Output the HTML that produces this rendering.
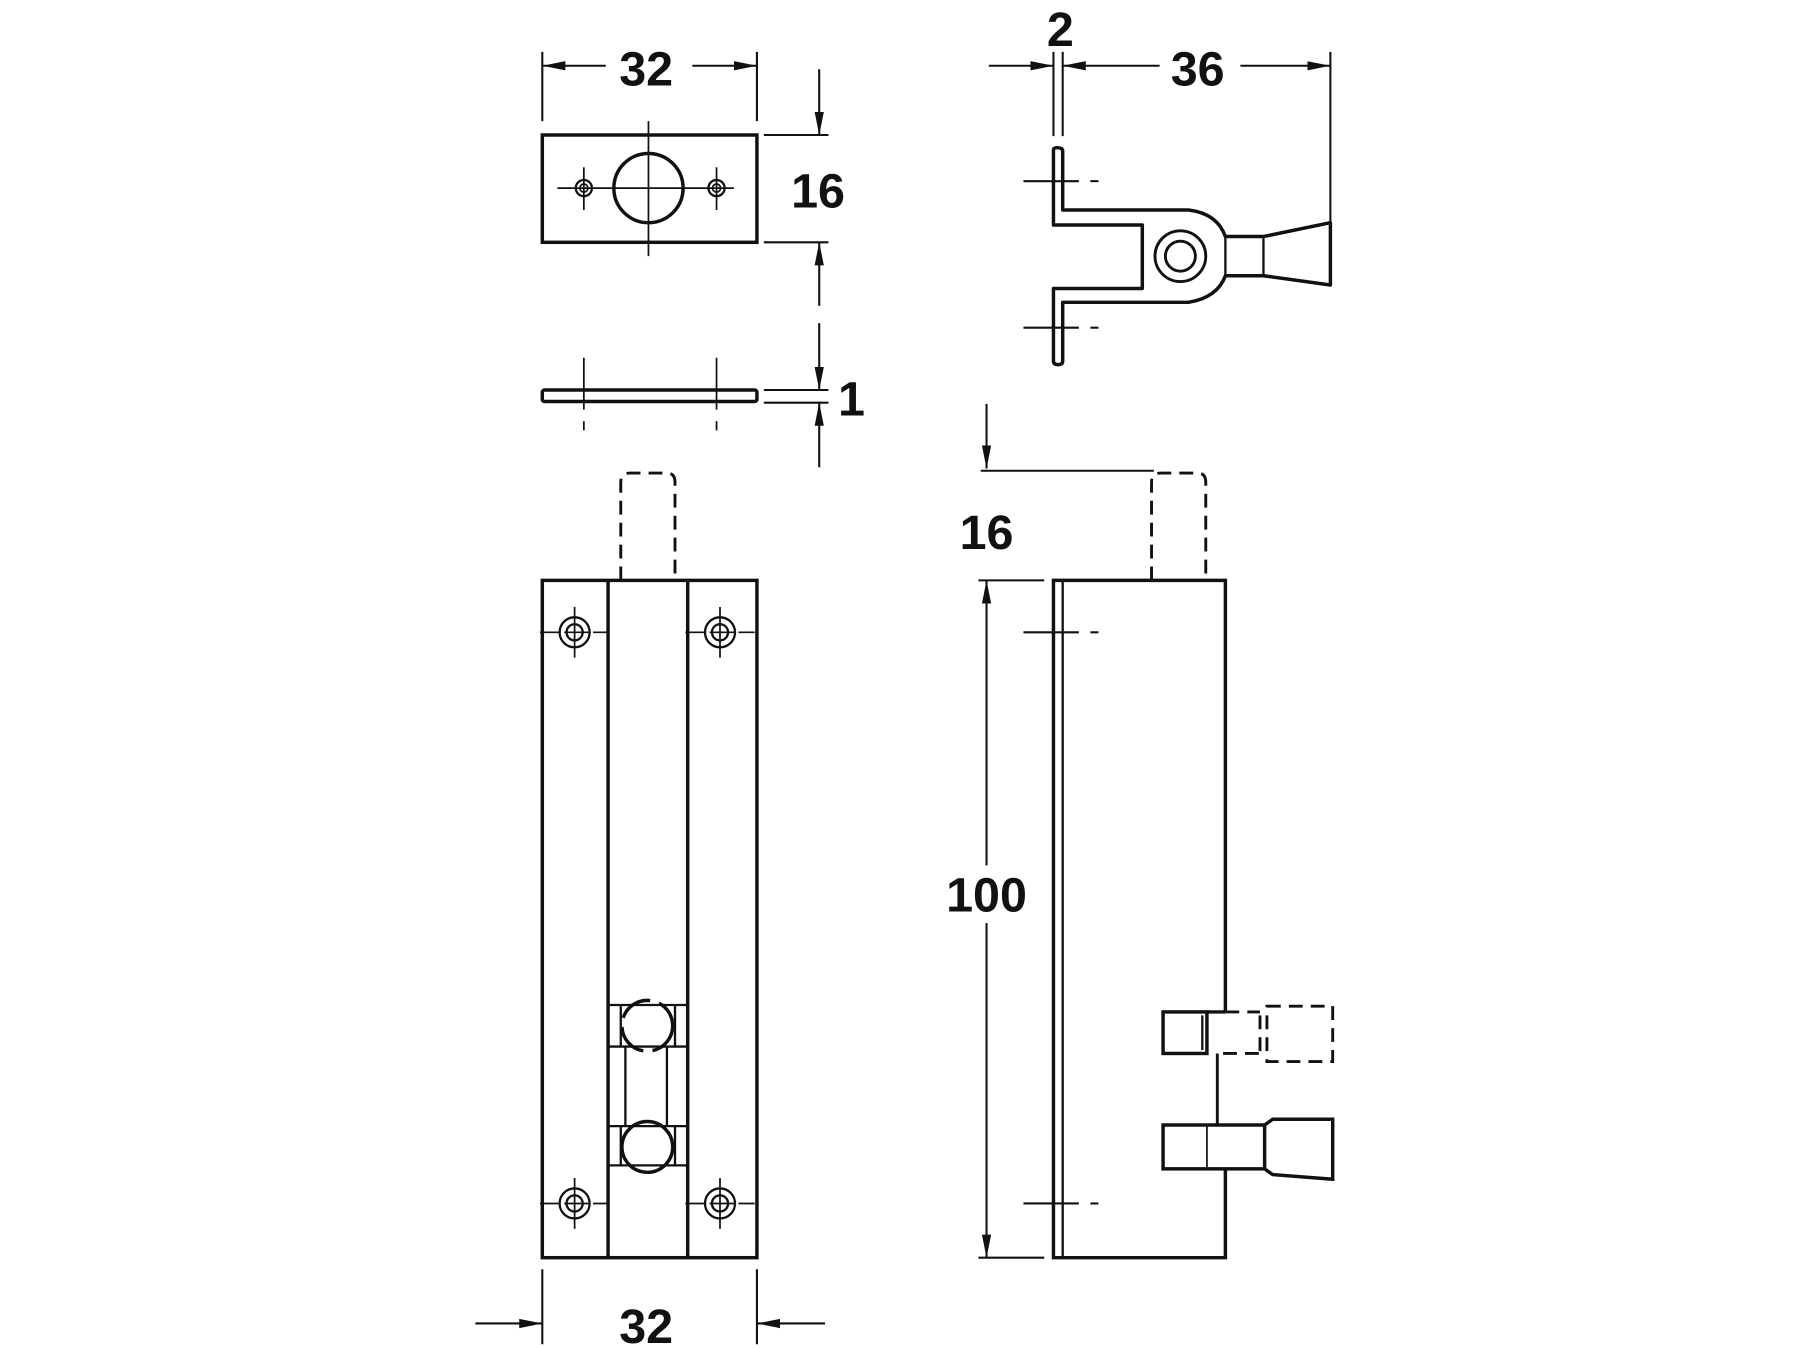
<!DOCTYPE html>
<html><head><style>html,body{margin:0;padding:0;background:#fff}svg{display:block}</style></head>
<body>
<svg width="1800" height="1350" viewBox="0 0 1560 1170" xmlns="http://www.w3.org/2000/svg">
<defs>
<marker id="a" viewBox="0 0 20 10" refX="20" refY="5" markerWidth="20" markerHeight="10" markerUnits="userSpaceOnUse" orient="auto"><path d="M0,1 L20,5 L0,9 z" fill="#111"/></marker>
<g id="s" fill="none" stroke="#111"><circle r="13" stroke-width="2" fill="none"/><circle r="7" stroke-width="2" fill="none"/><line x1="-30" y1="0" x2="30" y2="0" stroke-width="1.5" stroke-dasharray="18,3,22,3"/><line x1="0" y1="-22" x2="0" y2="22" stroke-width="1.5"/></g>
</defs>
<g fill="none" stroke="#111" stroke-width="1.8">
<line x1="470" y1="45" x2="470" y2="105"/><line x1="656" y1="45" x2="656" y2="105"/>
<line x1="525" y1="57" x2="470" y2="57" marker-end="url(#a)"/><line x1="600" y1="57" x2="656" y2="57" marker-end="url(#a)"/>
<line x1="662" y1="117" x2="718" y2="117"/><line x1="662" y1="210" x2="718" y2="210"/>
<line x1="710" y1="60" x2="710" y2="117" marker-end="url(#a)"/><line x1="710" y1="265" x2="710" y2="210" marker-end="url(#a)"/>
<line x1="662" y1="338" x2="718" y2="338"/><line x1="662" y1="349" x2="718" y2="349"/>
<line x1="710" y1="280" x2="710" y2="338" marker-end="url(#a)"/><line x1="710" y1="405" x2="710" y2="349" marker-end="url(#a)"/>
</g>
<g fill="none" stroke="#111">
<rect x="470" y="117" width="186" height="93" stroke-width="3"/>
<circle cx="562" cy="163" r="30" stroke-width="3"/>
<circle cx="506" cy="163" r="7" stroke-width="2"/><circle cx="506" cy="163" r="3.5" stroke-width="1.5"/>
<circle cx="621" cy="163" r="7" stroke-width="2"/><circle cx="621" cy="163" r="3.5" stroke-width="1.5"/>
<g stroke-width="1.5"><line x1="483" y1="163" x2="636" y2="163"/><line x1="562" y1="105" x2="562" y2="222"/><line x1="506" y1="145" x2="506" y2="182"/><line x1="621" y1="145" x2="621" y2="182"/></g>
<rect x="470" y="338" width="186" height="10" rx="2" stroke-width="3"/>
<g stroke-width="1.5"><line x1="506" y1="310" x2="506" y2="355"/><line x1="621" y1="310" x2="621" y2="355"/><line x1="506" y1="365" x2="506" y2="373"/><line x1="621" y1="365" x2="621" y2="373"/></g>
</g>
<g fill="none" stroke="#111" stroke-width="3">
<path d="M538,503 V418 Q538,410 546,410 H578 Q585,410 585,418 V503" stroke-dasharray="12,7" stroke-width="2.5"/>
<rect x="470" y="503" width="186" height="587"/>
<line x1="527" y1="503" x2="527" y2="1090"/><line x1="596" y1="503" x2="596" y2="1090"/>
<g stroke-width="2"><line x1="527" y1="871" x2="596" y2="871"/><line x1="527" y1="907" x2="596" y2="907"/><line x1="527" y1="976" x2="596" y2="976"/><line x1="527" y1="1010" x2="596" y2="1010"/>
<line x1="542" y1="907" x2="542" y2="976"/><line x1="578" y1="907" x2="578" y2="976"/>
<line x1="538" y1="871" x2="538" y2="907"/><line x1="585" y1="871" x2="585" y2="907"/><line x1="538" y1="976" x2="538" y2="1010"/><line x1="585" y1="976" x2="585" y2="1010"/></g>
<circle cx="561" cy="889" r="22" stroke-dasharray="30,8"/>
<circle cx="561" cy="994" r="22"/>
</g>
<use href="#s" x="498" y="548"/><use href="#s" x="624" y="548"/><use href="#s" x="498" y="1043"/><use href="#s" x="624" y="1043"/>
<g fill="none" stroke="#111" stroke-width="1.8">
<line x1="470" y1="1100" x2="470" y2="1165"/><line x1="656" y1="1100" x2="656" y2="1165"/>
<line x1="412" y1="1147" x2="470" y2="1147" marker-end="url(#a)"/><line x1="715" y1="1147" x2="656" y2="1147" marker-end="url(#a)"/>
<line x1="913" y1="45" x2="913" y2="118"/><line x1="921" y1="45" x2="921" y2="118"/><line x1="1153" y1="45" x2="1153" y2="195"/>
<line x1="857" y1="57" x2="913" y2="57" marker-end="url(#a)"/>
<line x1="1005" y1="57" x2="921" y2="57" marker-end="url(#a)"/><line x1="1075" y1="57" x2="1153" y2="57" marker-end="url(#a)"/>
<line x1="855" y1="350" x2="855" y2="406" marker-end="url(#a)"/><line x1="850" y1="408" x2="1000" y2="408"/>
<line x1="848" y1="503" x2="905" y2="503"/><line x1="848" y1="1090" x2="905" y2="1090"/>
<line x1="855" y1="750" x2="855" y2="503" marker-end="url(#a)"/><line x1="855" y1="800" x2="855" y2="1090" marker-end="url(#a)"/>
<line x1="887" y1="157" x2="935" y2="157"/><line x1="945" y1="157" x2="952" y2="157"/>
<line x1="887" y1="284" x2="935" y2="284"/><line x1="945" y1="284" x2="952" y2="284"/>
<line x1="887" y1="548" x2="935" y2="548"/><line x1="945" y1="548" x2="952" y2="548"/>
<line x1="887" y1="1043" x2="935" y2="1043"/><line x1="945" y1="1043" x2="952" y2="1043"/>
</g>
<g fill="none" stroke="#111" stroke-width="3" stroke-linejoin="round">
<path d="M913,130 Q913,128 916,128 Q921,128 921,131 V182 H1030 Q1055,185 1062,205 H1095 L1153,193 V247 L1095,239 H1062 Q1055,258 1030,262 H921 V313 Q921,316 917,316 Q913,316 913,313 V250 H990 V195 H913 Z"/>
<circle cx="1023" cy="222" r="22" stroke-width="2.5"/><circle cx="1023" cy="222" r="13" stroke-width="2.5"/>
<line x1="1062" y1="205" x2="1062" y2="239" stroke-width="2"/><line x1="1095" y1="205" x2="1095" y2="239" stroke-width="2"/>
</g>
<g fill="none" stroke="#111" stroke-width="3">
<path d="M998,503 V418 Q998,410 1006,410 H1038 Q1045,410 1045,418 V503" stroke-dasharray="12,7" stroke-width="2.5"/>
<path d="M1062,877 V503 H913 V1090 H1062 V1013"/>
<line x1="921" y1="503" x2="921" y2="1090" stroke-width="2"/>
<line x1="1055" y1="913" x2="1055" y2="975" stroke-width="2.5"/>
<rect x="1008" y="877" width="38" height="36"/>
<line x1="1046" y1="877" x2="1062" y2="877"/>
<line x1="1042" y1="880" x2="1042" y2="910" stroke-width="2"/>
<g stroke-dasharray="12,7" stroke-width="2.5">
<line x1="1062" y1="877" x2="1092" y2="877"/>
<line x1="1060" y1="913" x2="1092" y2="913"/>
<line x1="1092" y1="880" x2="1092" y2="912"/>
<path d="M1098,872 H1155 V920 H1098 Z"/>
</g>
<rect x="1008" y="975" width="88" height="38"/>
<line x1="1046" y1="975" x2="1046" y2="1013" stroke-width="1.5"/>
<path d="M1096,975 L1103,970 H1155 V1022 L1103,1018 L1096,1013"/>
</g>
<g font-family="Liberation Sans, sans-serif" font-weight="bold" font-size="42" fill="#111" text-anchor="middle">
<text x="560" y="74">32</text>
<text x="709" y="180">16</text>
<text x="738" y="360">1</text>
<text x="560" y="1164">32</text>
<text x="919" y="40">2</text>
<text x="1038" y="74">36</text>
<text x="855" y="476">16</text>
<text x="855" y="790">100</text>
</g>
</svg>
</body></html>
